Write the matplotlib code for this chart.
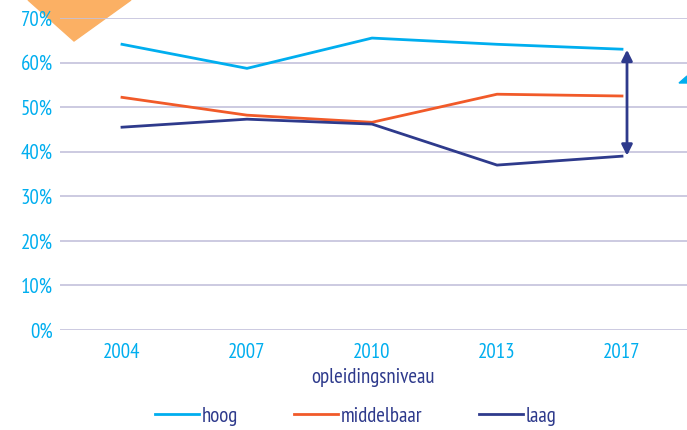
import matplotlib.pyplot as plt
from matplotlib.patches import Polygon, FancyArrowPatch

years = ['2004', '2007', '2010', '2013', '2017']
hoog = [64.1, 58.7, 65.5, 64.1, 63.0]
middelbaar = [52.2, 48.2, 46.6, 52.9, 52.5]
laag = [45.5, 47.3, 46.2, 37.0, 39.0]
yticks = [0, 10, 20, 30, 40, 50, 60, 70]

CYAN = '#00AEEF'
ORANGE = '#F15A29'
NAVY = '#2E3A8C'
GRID = '#C3C1DC'

plt.rcParams['font.family'] = ['PT Sans Narrow', 'DejaVu Sans']

W, H = 687, 430
fig = plt.figure(figsize=(W / 100, H / 100), dpi=100)
ax = fig.add_axes([60 / W, 100 / H, 1 - 60 / W, 312 / H])

# decorative shapes (figure pixel coords), kept behind the axes
def px(pts):
    return [(x / W, 1 - y / H) for x, y in pts]

fig.patches.append(Polygon(px([(28, 0), (131, 0), (74, 41)]), closed=True,
                           transform=fig.transFigure, color='#FBB064', zorder=-1))
fig.patches.append(Polygon(px([(679, 83), (687, 76), (687, 83)]), closed=True,
                           transform=fig.transFigure, color=CYAN, zorder=-1))
ax.set_facecolor('none')

x = range(len(years))
ax.plot(x, hoog, color=CYAN, lw=2.0, label='hoog', zorder=3)
ax.plot(x, middelbaar, color=ORANGE, lw=2.0, label='middelbaar', zorder=3)
ax.plot(x, laag, color=NAVY, lw=2.0, label='laag', zorder=3)

arrow = FancyArrowPatch((4.04, laag[-1] - 0.5), (4.04, hoog[-1] + 0.5),
                        arrowstyle='<|-|>', mutation_scale=16, color=NAVY, lw=2.0, zorder=4)
ax.add_patch(arrow)

ax.set_ylim(0, 70)
ax.set_xlim(-0.496, 4.52)
ax.set_yticks(yticks)
ax.set_yticklabels([f'{v}%' for v in yticks])
ax.set_xticks(list(x))
ax.set_xticklabels(years)
ax.yaxis.grid(True, color=GRID, lw=1.2)
ax.set_axisbelow(True)
ax.tick_params(length=0, labelsize=15, labelcolor=CYAN)
ax.tick_params(axis='y', pad=5)
ax.tick_params(axis='x', pad=9)
for s in ax.spines.values():
    s.set_visible(False)

ax.set_xlabel('opleidingsniveau', color=NAVY, fontsize=15, labelpad=5)

leg = fig.legend(loc='center left', bbox_to_anchor=(155 / W, 1 - 416 / H), ncol=3,
                 frameon=False, fontsize=15, handlelength=2.1, handletextpad=0.15,
                 columnspacing=2.7, borderpad=0, borderaxespad=0)
for t in leg.get_texts():
    t.set_color(NAVY)

fig.savefig('out.png', dpi=100)
